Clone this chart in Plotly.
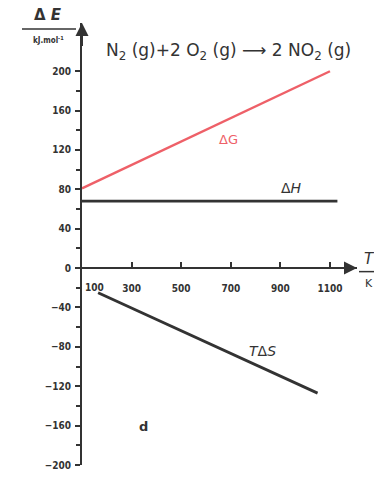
import plotly.graph_objects as go

# Data (T in K, energies in kJ/mol)
T_dG = [100, 1100]
dG = [81, 200]
T_dH = [100, 1130]
dH = [68, 68]
T_TdS = [165, 1050]
TdS = [-25, -127]

y_major = [-200, -160, -120, -80, -40, 0, 40, 80, 120, 160, 200]
y_minor = [-180, -140, -100, -60, -20, 20, 60, 100, 140, 180]
x_ticks = [300, 500, 700, 900, 1100]

W, H = 374, 483
L, R, TOP, B = 82, 17, 23, 12
XR = [100, 1209]
YR = [-200, 249]
pw = W - L - R
ph = H - TOP - B

def px(x):
    return (x - L) / pw

def py(y):
    return (H - B - y) / ph

ink = "#333333"
red = "#ee6068"

fig = go.Figure()
fig.add_trace(go.Scatter(x=T_dG, y=dG, mode="lines", line=dict(color=red, width=2.4), hoverinfo="skip"))
fig.add_trace(go.Scatter(x=T_dH, y=dH, mode="lines", line=dict(color=ink, width=2.8), hoverinfo="skip"))
fig.add_trace(go.Scatter(x=T_TdS, y=TdS, mode="lines", line=dict(color=ink, width=2.8), hoverinfo="skip"))

tickfont = dict(family="DejaVu Sans Condensed, DejaVu Sans", size=10, color=ink, weight="bold")

fig.update_layout(
    width=W, height=H,
    margin=dict(l=L, r=R, t=TOP, b=B, pad=0),
    paper_bgcolor="white", plot_bgcolor="white",
    showlegend=False,
    xaxis=dict(range=XR, showgrid=False, zeroline=False, showline=True, linecolor=ink, linewidth=2,
               anchor="free", position=(0 - YR[0]) / (YR[1] - YR[0]),
               tickvals=x_ticks, ticks="inside", ticklen=5, tickwidth=1.5, tickcolor=ink,
               tickfont=tickfont, ticklabelstandoff=11, fixedrange=True),
    yaxis=dict(range=YR, showgrid=False, zeroline=False, showline=True, linecolor=ink, linewidth=2,
               tickvals=y_major, ticks="outside", ticklen=5, tickwidth=1.5, tickcolor=ink,
               ticktext=[("−%d" % -v) if v < 0 else str(v) for v in y_major],
               tickfont=tickfont, ticklabelstandoff=2,
               minor=dict(tickvals=y_minor, ticks="outside", ticklen=4, tickwidth=1.5, tickcolor=ink),
               fixedrange=True),
)

# axis arrows
fig.add_annotation(x=100, y=YR[1], ax=100, ay=YR[1] - 25, xref="x", yref="y", axref="x", ayref="y",
                   showarrow=True, arrowhead=2, arrowsize=1.3, arrowwidth=2, arrowcolor=ink, text="")
fig.add_annotation(x=XR[1], y=0, ax=XR[1] - 100, ay=0, xref="x", yref="y", axref="x", ayref="y",
                   showarrow=True, arrowhead=2, arrowsize=1.3, arrowwidth=2, arrowcolor=ink, text="")

# "100" label offset right of the axis
fig.add_annotation(x=100, y=0, xref="x", yref="y", text="100", showarrow=False,
                   xanchor="left", yanchor="middle", xshift=1, yshift=-19, font=tickfont)

# y-axis label fraction
fig.add_annotation(x=px(48), y=py(15), xref="paper", yref="paper", text="<b>Δ <i>E</i></b>", showarrow=False,
                   xanchor="center", yanchor="middle", font=dict(family="DejaVu Sans", size=15, color=ink))
fig.add_shape(type="line", xref="paper", yref="paper", x0=px(22), x1=px(76), y0=py(29), y1=py(29),
              line=dict(color=ink, width=1.5))
fig.add_annotation(x=px(48), y=py(40), xref="paper", yref="paper", text="<b>kJ.mol<sup>-1</sup></b>", showarrow=False,
                   xanchor="center", yanchor="middle", font=dict(family="DejaVu Sans Condensed, DejaVu Sans", size=8, color=ink))

# x-axis label fraction (cut by the edge)
fig.add_annotation(x=px(369), y=py(262), xref="paper", yref="paper", text="<i>T</i>", showarrow=False,
                   xanchor="center", yanchor="middle", font=dict(family="DejaVu Sans", size=15, color=ink))
fig.add_shape(type="line", xref="paper", yref="paper", x0=px(359), x1=px(376), y0=py(275), y1=py(275),
              line=dict(color=ink, width=1.5))
fig.add_annotation(x=px(369), y=py(287), xref="paper", yref="paper", text="K", showarrow=False,
                   xanchor="center", yanchor="middle", font=dict(family="DejaVu Sans", size=11, color=ink))

# reaction equation
fig.add_annotation(x=189, y=220, xref="x", yref="y", xanchor="left", yanchor="middle", showarrow=False,
                   text="N<sub>2</sub> (g)+2 O<sub>2</sub> (g) ⟶ 2 NO<sub>2</sub> (g)",
                   font=dict(family="DejaVu Sans", size=17, color=ink))

# curve labels
fig.add_annotation(x=689, y=131, xref="x", yref="y", text="ΔG", showarrow=False,
                   font=dict(family="DejaVu Sans", size=13, color=red))
fig.add_annotation(x=943, y=81, xref="x", yref="y", text="Δ<i>H</i>", showarrow=False,
                   font=dict(family="DejaVu Sans", size=14, color=ink))
fig.add_annotation(x=826, y=-84, xref="x", yref="y", text="<i>T</i>Δ<i>S</i>", showarrow=False,
                   font=dict(family="DejaVu Sans", size=14, color=ink))
fig.add_annotation(x=346, y=-161, xref="x", yref="y", text="<b>d</b>", showarrow=False,
                   font=dict(family="DejaVu Sans", size=13, color=ink))

fig.write_html("out.html")
